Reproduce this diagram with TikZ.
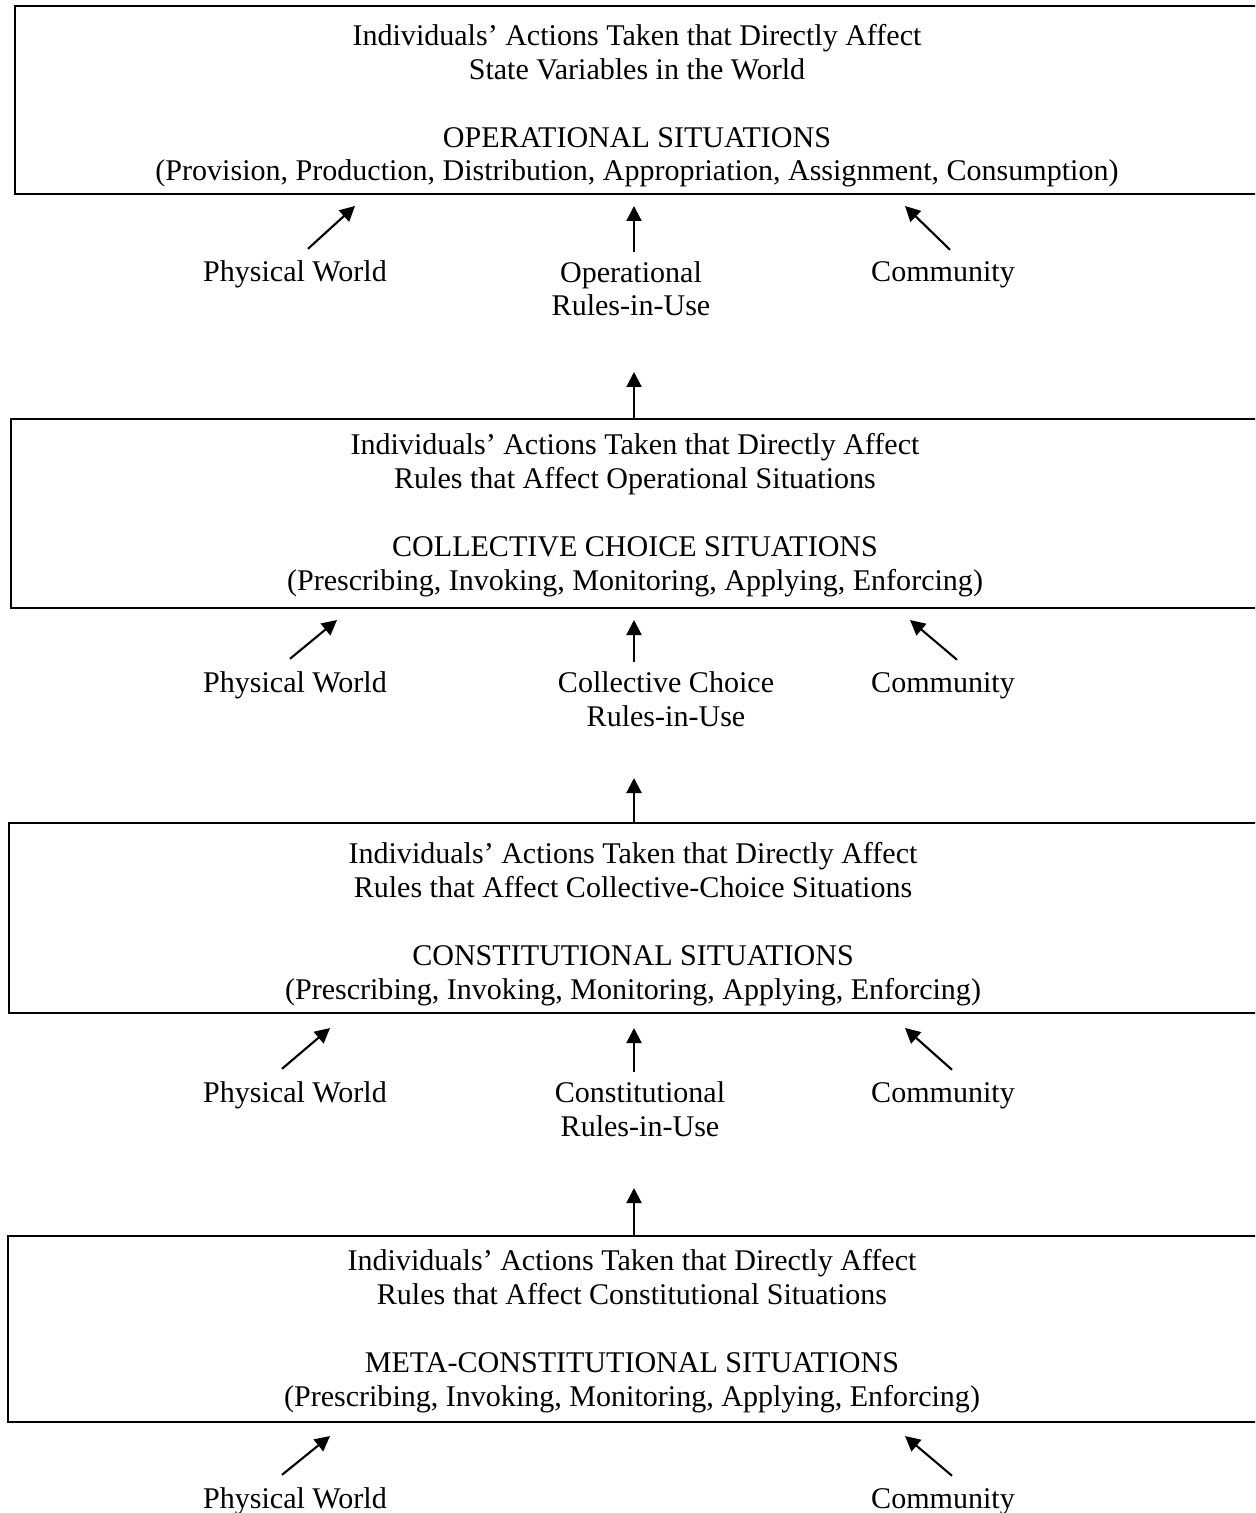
\documentclass[tikz,border=0pt]{standalone}
\usepackage{fontspec}
\setmainfont{Liberation Serif}
\usetikzlibrary{positioning,arrows.meta}

\tikzset{
  sitbox/.style={draw, line width=1.4pt, inner sep=0pt, anchor=north west},
  sittext/.style={align=center, inner sep=0pt, anchor=base, font=\fontsize{17.1}{19.3}\selectfont},
  lbl/.style={align=center, inner sep=0pt, anchor=base, font=\fontsize{17.1}{19.3}\selectfont},
  arr/.style={line width=1.2pt, -{Triangle[length=0.3cm,width=0.3cm]}}
}

\begin{document}
\begin{tikzpicture}[x=0.02cm,y=-0.02cm]
  \clip (0,0) rectangle (1255,1513);

  % the four levels of situations
  \foreach \lvl/\lx/\ty/\by in {op/14/5/193, cc/10/418/607, con/8/822/1012, meta/7/1235/1421}
    \node[sitbox, minimum width={(1300-\lx)*0.02cm}, minimum height={(\by-\ty)*0.02cm}] (box-\lvl) at (\lx,\ty) {};

  % texts sit on the baseline of their last line
  \node[sittext] (txt-op) at (637,181) {Individuals' Actions Taken that Directly Affect\\State Variables in the World\\[19.3pt]OPERATIONAL SITUATIONS\\(Provision, Production, Distribution, Appropriation, Assignment, Consumption)};
  \node[sittext] (txt-cc) at (635,590) {Individuals' Actions Taken that Directly Affect\\Rules that Affect Operational Situations\\[19.3pt]COLLECTIVE CHOICE SITUATIONS\\(Prescribing, Invoking, Monitoring, Applying, Enforcing)};
  \node[sittext] (txt-con) at (633,999) {Individuals' Actions Taken that Directly Affect\\Rules that Affect Collective-Choice Situations\\[19.3pt]CONSTITUTIONAL SITUATIONS\\(Prescribing, Invoking, Monitoring, Applying, Enforcing)};
  \node[sittext] (txt-meta) at (632,1406) {Individuals' Actions Taken that Directly Affect\\Rules that Affect Constitutional Situations\\[19.3pt]META-CONSTITUTIONAL SITUATIONS\\(Prescribing, Invoking, Monitoring, Applying, Enforcing)};

  % outside influences
  \foreach \lvl/\y/\tipy/\pdx/\ptip/\cdx/\ctip in {op/282/206/13/355/7/905, cc/692/620/-5/337/14/910, con/1102/1028/-13/330/9/905, meta/1508/1436/-13/330/9/905} {
    \node[lbl] (pw-\lvl) at (295,\y) {Physical World};
    \node[lbl] (com-\lvl) at (943,\y) {Community};
    \coordinate (pwtip-\lvl) at (\ptip,\tipy);
    \coordinate (comtip-\lvl) at (\ctip,\tipy);
    \draw[arr] ([shift={(\pdx,-12)}]pw-\lvl.north) -- (pwtip-\lvl);
    \draw[arr] ([shift={(\cdx,-12)}]com-\lvl.north) -- (comtip-\lvl);
  }

  % rules-in-use
  \node[lbl] (rules-op) at (631,316) {Operational\\Rules-in-Use};
  \node[lbl] (rules-cc) at (666,726) {Collective Choice\\Rules-in-Use};
  \node[lbl] (rules-con) at (640,1136) {Constitutional\\Rules-in-Use};
  \foreach \lvl/\dx/\tipy in {op/3/206, cc/-32/620, con/-6/1028} {
    \coordinate (rtip-\lvl) at (634,\tipy);
    \draw[arr] ([shift={(\dx,-9)}]rules-\lvl.north) -- (rtip-\lvl);
  }

  % rules passed up to the next level
  \foreach \lvl/\tipy in {cc/372, con/778, meta/1188} {
    \coordinate (uptip-\lvl) at (634,\tipy);
    \draw[arr] (box-\lvl.north -| uptip-\lvl) -- (uptip-\lvl);
  }
\end{tikzpicture}
\end{document}
